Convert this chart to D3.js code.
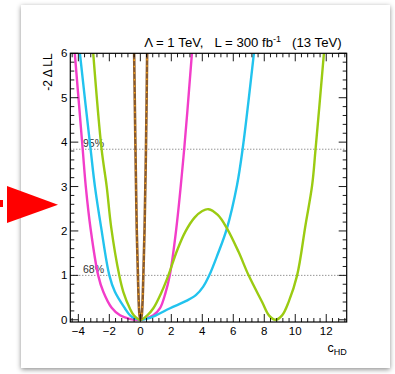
<!DOCTYPE html>
<html>
<head>
<meta charset="utf-8">
<script src="https://cdn.jsdelivr.net/npm/d3@7"></script>
<style>
  html, body { margin: 0; padding: 0; background: #fff; }
  svg { display: block; font-family: "Liberation Sans", Arial, sans-serif; }
</style>
</head>
<body>
<svg id="chart" width="395" height="374"></svg>
<script>
// Likelihood scans in c_HD: [c_HD, -2ΔlnL] samples per scan
const scanMagenta = [[-4.30,6.3],[-4.23,6.0],[-3.72,3.84],[-3.52,3.0],[-3.21,2.05],[-2.72,1.0],[-2.39,0.63],[-1.85,0.27],
  [-1.31,0.1],[-0.7,0.02],[-0.2,0.0],[0.3,0.02],[0.84,0.1],[1.27,0.26],[1.62,0.6],[1.90,1.0],[2.31,2.02],[2.83,3.84],[3.33,6.0],[3.40,6.3]];
const scanCyan = [[-3.98,6.3],[-3.90,6.0],[-3.21,3.84],[-2.93,3.0],[-2.53,2.08],[-2.0,1.0],[-1.64,0.63],[-1.0,0.26],
  [-0.66,0.1],[-0.35,0.03],[0.05,0.0],[0.5,0.03],[1.06,0.11],[1.92,0.26],[3.0,0.43],[3.6,0.56],[4.05,0.74],[4.45,1.0],
  [5.0,1.48],[5.59,2.06],[6.24,3.03],[6.6,3.84],[7.33,6.0],[7.42,6.3]];
const scanGreen = [[-3.10,6.3],[-3.04,6.0],[-2.5,3.84],[-2.17,3.0],[-1.88,2.08],[-1.36,1.0],[-1.1,0.63],[-0.68,0.26],
  [-0.42,0.1],[0.0,0.0],[0.45,0.1],[0.84,0.26],[1.38,0.63],[1.81,1.0],[2.36,1.55],[2.9,1.98],[3.5,2.3],[4.0,2.45],
  [4.4,2.49],[5.0,2.36],[5.59,2.06],[6.34,1.53],[6.99,1.0],[7.86,0.4],[8.3,0.1],[8.72,0.0],[9.15,0.1],[9.58,0.41],
  [10.12,1.0],[10.66,2.13],[11.09,3.03],[11.31,3.84],[11.85,6.0],[11.92,6.3]];
const scanNarrow = [[-0.41,6.3],[-0.40,6.0],[-0.32,4.0],[-0.23,2.0],[-0.14,0.8],[-0.05,0.1],[0.02,0.0],[0.09,0.1],
  [0.18,0.8],[0.27,2.0],[0.37,4.0],[0.44,6.0],[0.45,6.3]];

// Confidence-level reference lines
const clLevels = [1.0, 3.84];
const clLabels = ["68%", "95%"];

// Axis ticks
const xMajorTicks = [-4, -2, 0, 2, 4, 6, 8, 10, 12];
const yMajorTicks = [0, 1, 2, 3, 4, 5, 6];

const svg = d3.select("#chart");

// Card with shadow
const defs = svg.append("defs");
const f = defs.append("filter").attr("id", "shadow").attr("x", "-10%").attr("y", "-10%").attr("width", "120%").attr("height", "120%");
f.append("feDropShadow").attr("dx", 0).attr("dy", 1.5).attr("stdDeviation", 2.5)
  .attr("flood-color", "#000").attr("flood-opacity", 0.45);
svg.append("rect").attr("x", 21).attr("y", 5).attr("width", 369).attr("height", 363)
  .attr("fill", "#fff").attr("filter", "url(#shadow)");

const L = 70.3, R = 346.7, T = 53.3, B = 322;
const x = d3.scaleLinear().domain([-4.52, 13.32]).range([L, R]);
const y = d3.scaleLinear().domain([-0.05, 6]).range([B, T]);

defs.append("clipPath").attr("id", "frame").append("rect")
  .attr("x", L).attr("y", T).attr("width", R - L).attr("height", B - T);

// CL lines
const g = svg.append("g");
g.selectAll("line.cl").data(clLevels).join("line")
  .attr("x1", L).attr("x2", R).attr("y1", d => y(d)).attr("y2", d => y(d))
  .attr("stroke", "#555").attr("stroke-width", 0.9).attr("stroke-dasharray", "1,2");
g.selectAll("text.cl").data(clLevels).join("text")
  .attr("x", 83).attr("y", d => y(d) - 2.5)
  .attr("font-size", 10.5).attr("fill", "#333")
  .text((d, i) => clLabels[i]);

// Curves
const line = d3.line().x(d => x(d[0])).y(d => y(d[1])).curve(d3.curveCatmullRom.alpha(0.5));
const curves = svg.append("g").attr("clip-path", "url(#frame)");
const styles = [
  { data: scanMagenta, color: "#f23dc9", w: 2.4 },
  { data: scanCyan, color: "#22c3ee", w: 2.4 },
  { data: scanGreen, color: "#9bcb12", w: 2.4 },
  { data: scanNarrow, color: "#8a5a2c", w: 2.6 }
];
styles.forEach(s => {
  curves.append("path").attr("d", line(s.data)).attr("fill", "none")
    .attr("stroke", s.color).attr("stroke-width", s.w).attr("stroke-linejoin", "round");
});
curves.append("path").attr("d", line(scanNarrow)).attr("fill", "none")
  .attr("stroke", "#ffa514").attr("stroke-width", 1.4).attr("stroke-dasharray", "1.5,5");

// Frame
svg.append("rect").attr("x", L).attr("y", T).attr("width", R - L).attr("height", B - T)
  .attr("fill", "none").attr("stroke", "#000").attr("stroke-width", 1.2);

// Ticks
const xMinor = d3.range(-4.4, 13.3, 0.4).map(v => +v.toFixed(2)).filter(v => !xMajorTicks.some(m => Math.abs(m - v) < 1e-6));
const yMinor = d3.range(0, 6.001, 0.2).map(v => +v.toFixed(2)).filter(v => !yMajorTicks.some(m => Math.abs(m - v) < 1e-6));
const tk = svg.append("g").attr("stroke", "#000").attr("stroke-width", 0.9);
const xTicks = xMajorTicks.map(v => [v, 8]).concat(xMinor.map(v => [v, 4]));
xTicks.forEach(([v, len]) => {
  tk.append("line").attr("x1", x(v)).attr("x2", x(v)).attr("y1", B).attr("y2", B - len);
  tk.append("line").attr("x1", x(v)).attr("x2", x(v)).attr("y1", T).attr("y2", T + len);
});
const yTicks = yMajorTicks.map(v => [v, 8]).concat(yMinor.map(v => [v, 4]));
yTicks.forEach(([v, len]) => {
  tk.append("line").attr("y1", y(v)).attr("y2", y(v)).attr("x1", L).attr("x2", L + len);
  tk.append("line").attr("y1", y(v)).attr("y2", y(v)).attr("x1", R).attr("x2", R - len);
});

// Tick labels
const fmt = d3.format("d");
svg.append("g").selectAll("text").data(xMajorTicks).join("text")
  .attr("x", d => x(d)).attr("y", 334.5).attr("text-anchor", "middle")
  .attr("font-size", 11.5).text(d => fmt(d));
svg.append("g").selectAll("text").data(yMajorTicks).join("text")
  .attr("x", 67.5).attr("y", d => y(d) + 4).attr("text-anchor", "end")
  .attr("font-size", 11.5).text(d => fmt(d));

// Axis titles
svg.append("text").attr("transform", "translate(51.5," + T + ") rotate(-90)")
  .attr("text-anchor", "end").attr("font-size", 12).text("-2 Δ LL");
const xt = svg.append("text").attr("x", R).attr("y", 351.5).attr("text-anchor", "end").attr("font-size", 12.5);
xt.append("tspan").text("c");
xt.append("tspan").attr("font-size", 9).attr("dy", 3).text("HD");

// Title
const title = svg.append("text").attr("x", 341.7).attr("y", 46.5).attr("text-anchor", "end").attr("font-size", 13.2)
  .attr("xml:space", "preserve");
title.append("tspan").text("Λ = 1 TeV,   L = 300 fb");
title.append("tspan").attr("font-size", 9).attr("dy", -5).text("-1");
title.append("tspan").attr("dy", 5).text("   (13 TeV)");

// Pointer arrow
svg.append("rect").attr("x", 0).attr("y", 200).attr("width", 3).attr("height", 7).attr("fill", "#ff0000");
svg.append("polygon").attr("points", "7,186 58,204.7 7,223").attr("fill", "#ff0000");
</script>
</body>
</html>
